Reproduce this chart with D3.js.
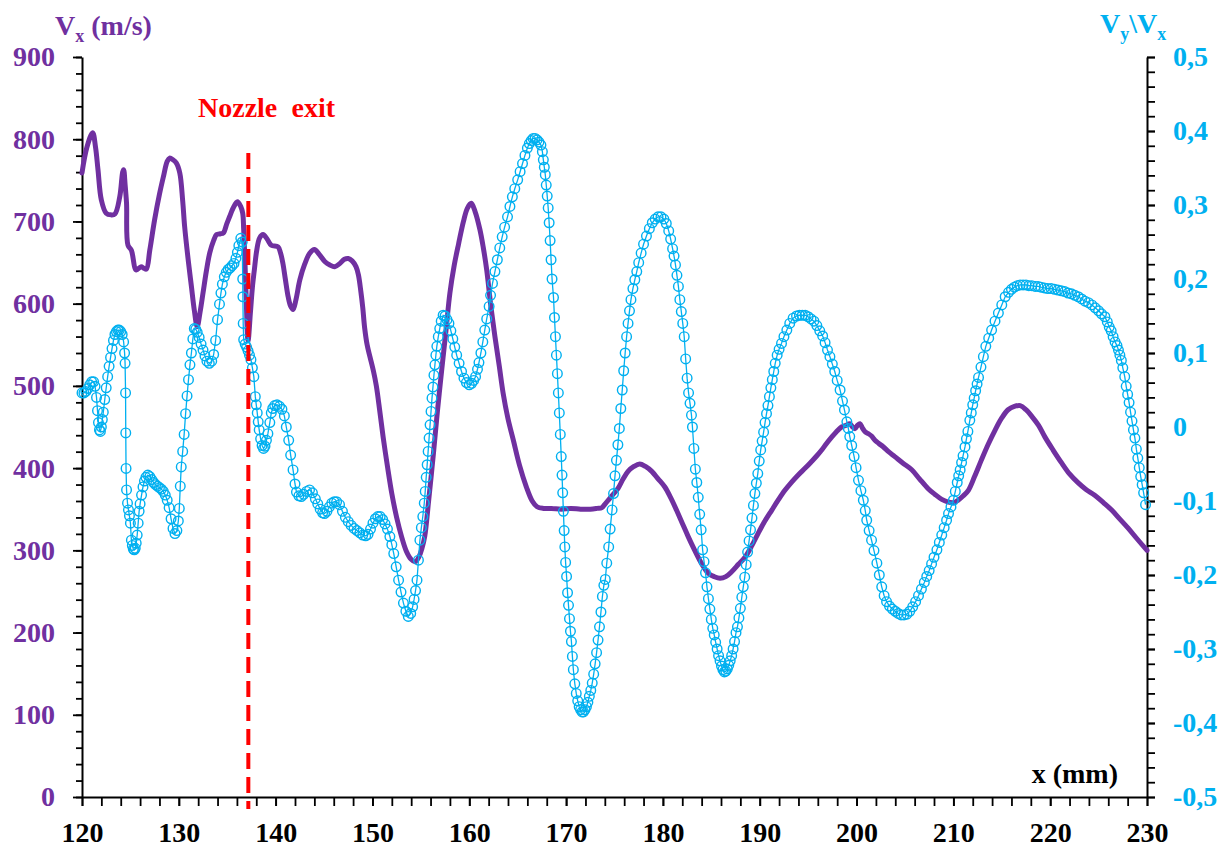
<!DOCTYPE html>
<html><head><meta charset="utf-8">
<script src="https://cdn.jsdelivr.net/npm/d3@7"></script>
<style>
html,body{margin:0;padding:0;background:#fff;}
svg{display:block;font-family:"Liberation Serif","Times New Roman",serif;font-weight:bold;}
</style>
</head><body>
<svg id="c" width="1232" height="856"></svg>
<script>
// ---------- data ----------
const xTicks = [120,130,140,150,160,170,180,190,200,210,220,230];
const vxTicks = [0,100,200,300,400,500,600,700,800,900];
const ratioTicks = [-0.5,-0.4,-0.3,-0.2,-0.1,0,0.1,0.2,0.3,0.4,0.5];
const nozzleExit = 137.18;

// Vx (m/s) along x (mm)
const vxPoints = [
[120.0,759],[120.5,790],[121.1,808],[121.4,790],[121.65,763],[122.0,726],[122.5,710],[123.0,708],[123.4,709],[123.9,730],
[124.2,760],[124.3,763],[124.45,745],[124.6,722],[124.75,671],[125.1,665],[125.6,641],[126.1,645],[126.4,643],[126.65,642],
[127.0,665],[127.5,702],[128.0,733],[128.4,754],[128.8,773],[129.05,777],[129.4,775],[129.75,771],[130.1,759],[130.4,725],
[130.6,694],[131.0,650],[131.3,621],[131.6,592],[131.9,572],[132.2,590],[132.5,613],[132.85,640],[133.2,662],[133.6,677],
[133.9,684],[134.3,685],[134.6,686],[134.95,697],[135.25,706],[135.6,716],[136.05,724],[136.4,718],[136.6,710],[136.7,690],
[136.8,662],[136.95,610],[137.15,555],[137.4,590],[137.6,620],[137.8,641],[138.05,665],[138.35,680],[138.7,684],[139.1,679],
[139.55,671],[140.25,669],[140.5,662],[140.75,649],[141.0,630],[141.3,608],[141.55,597],[141.8,593],[142.1,605],[142.5,629],
[143.0,648],[143.5,661],[144.0,666],[144.5,660],[145.1,651],[145.6,647],[146.1,645],[146.65,649],[147.1,654],[147.5,655],
[147.9,652],[148.3,645],[148.55,635],[148.8,615],[149.0,595],[149.2,570],[149.45,550],[149.75,535],[150.1,518],[150.4,500],
[150.75,470],[151.1,438],[151.55,402],[152.0,369],[152.5,340],[153.0,317],[153.5,299],[154.0,289],[154.4,286],[154.8,292],
[155.1,302],[155.4,317],[155.8,360],[156.3,418],[156.7,468],[157.15,519],[157.6,568],[158.0,613],[158.45,647],[158.9,673],
[159.4,700],[159.8,716],[160.2,722],[160.6,712],[161.1,690],[161.45,668],[161.8,641],[162.2,600],[162.65,560],[163.1,524],
[163.5,491],[164.0,460],[164.55,434],[165.2,403],[165.9,377],[166.5,360],[167.0,353],[167.65,351],[168.5,351],[169.5,350],
[170.5,351],[171.5,350],[172.5,350],[173.2,351],[173.7,352],[174.0,356],[174.5,363],[175.0,370],[175.4,376],[175.9,387],
[176.4,396],[177.0,402],[177.6,405],[178.2,402],[178.85,396],[179.5,387],[180.2,377],[180.8,364],[181.4,349],[182.0,333],
[182.6,317],[183.2,302],[183.8,288],[184.3,278],[184.7,272],[185.3,268],[185.9,266],[186.5,268],[187.1,274],[187.8,283],
[188.5,292],[189.2,306],[189.85,321],[190.5,335],[191.25,349],[191.9,361],[192.6,373],[193.3,383],[194.0,392],[194.7,400],
[195.35,408],[195.9,415],[196.4,422],[196.9,430],[197.45,438],[197.9,444],[198.45,450],[198.9,452],[199.3,454],[199.6,450],
[199.85,448],[200.1,452],[200.35,454],[200.6,449],[200.9,444],[201.2,442],[201.55,439],[201.9,434],[202.3,430],[202.75,426],
[203.3,420],[203.95,414],[204.8,406],[205.7,398],[206.5,387],[207.4,375],[208.1,368],[208.8,362],[209.4,359],[210.0,358],
[210.5,361],[211.0,366],[211.55,373],[212.2,390],[212.9,410],[213.6,429],[214.3,446],[215.0,461],[215.65,471],[216.3,475],
[216.9,476],[217.5,471],[218.1,463],[218.8,452],[219.45,438],[220.3,422],[221.2,406],[222.0,393],[222.9,382],[223.7,374],
[224.6,367],[225.5,358],[226.35,349],[227.2,338],[228.05,327],[228.9,315],[229.85,302],[230.0,300]
];

// Vy\Vx along x (mm)
const ratioPoints = [
[120.0,0.046],[120.2,0.046],[120.4,0.048],[120.6,0.052],[120.8,0.057],[121.0,0.061],[121.2,0.061],[121.35,0.055],[121.5,0.04],[121.6,0.022],
[121.7,0.006],[121.8,-0.004],[121.9,-0.006],[122.0,0.0],[122.1,0.01],[122.2,0.02],[122.35,0.037],[122.5,0.053],[122.65,0.068],[122.8,0.082],
[122.95,0.094],[123.1,0.106],[123.25,0.117],[123.4,0.125],[123.55,0.129],[123.7,0.131],[123.85,0.131],[124.0,0.129],[124.15,0.125],[124.3,0.115],
[124.4,0.1],[124.45,0.086],[124.5,0.046],[124.52,-0.008],[124.55,-0.056],[124.6,-0.085],[124.7,-0.103],[124.8,-0.112],[124.9,-0.12],[125.0,-0.13],
[125.1,-0.153],[125.2,-0.16],[125.3,-0.165],[125.4,-0.166],[125.5,-0.164],[125.6,-0.157],[125.7,-0.146],[125.8,-0.13],[125.9,-0.114],[126.0,-0.104],
[126.15,-0.092],[126.3,-0.081],[126.45,-0.073],[126.6,-0.068],[126.8,-0.065],[127.0,-0.067],[127.2,-0.071],[127.4,-0.075],[127.6,-0.078],[127.8,-0.08],
[128.0,-0.082],[128.2,-0.084],[128.4,-0.087],[128.6,-0.092],[128.8,-0.099],[129.0,-0.109],[129.2,-0.124],[129.4,-0.137],[129.6,-0.144],[129.8,-0.14],
[129.95,-0.127],[130.05,-0.11],[130.15,-0.08],[130.25,-0.054],[130.4,-0.033],[130.55,-0.01],[130.7,0.018],[130.85,0.042],[131.0,0.064],[131.15,0.084],
[131.3,0.1],[131.45,0.119],[131.6,0.133],[131.75,0.132],[131.9,0.128],[132.1,0.121],[132.3,0.112],[132.5,0.104],[132.7,0.096],[132.9,0.089],
[133.15,0.086],[133.4,0.089],[133.6,0.098],[133.8,0.117],[134.0,0.145],[134.2,0.166],[134.35,0.181],[134.5,0.193],[134.7,0.203],[134.9,0.209],
[135.1,0.213],[135.3,0.215],[135.5,0.218],[135.7,0.221],[135.9,0.228],[136.05,0.236],[136.2,0.245],[136.4,0.255],[136.55,0.25],[136.6,0.2],
[136.62,0.176],[136.65,0.14],[136.7,0.118],[136.85,0.112],[137.0,0.108],[137.15,0.103],[137.3,0.097],[137.45,0.091],[137.6,0.08],[137.75,0.068],
[137.9,0.041],[138.0,0.03],[138.1,0.019],[138.2,0.007],[138.3,-0.004],[138.45,-0.016],[138.6,-0.025],[138.75,-0.029],[138.9,-0.026],[139.05,-0.018],
[139.2,-0.009],[139.4,0.006],[139.55,0.019],[139.7,0.025],[139.9,0.029],[140.15,0.03],[140.4,0.028],[140.65,0.024],[140.9,0.015],[141.1,0.0],
[141.35,-0.018],[141.55,-0.038],[141.8,-0.058],[142.0,-0.077],[142.15,-0.088],[142.4,-0.093],[142.65,-0.094],[142.9,-0.091],[143.2,-0.087],[143.5,-0.085],
[143.8,-0.089],[144.1,-0.097],[144.35,-0.104],[144.6,-0.111],[144.85,-0.116],[145.05,-0.117],[145.3,-0.114],[145.55,-0.108],[145.8,-0.103],[146.05,-0.101],
[146.3,-0.101],[146.6,-0.105],[146.9,-0.114],[147.2,-0.122],[147.5,-0.128],[147.8,-0.133],[148.1,-0.137],[148.4,-0.14],[148.7,-0.143],[149.0,-0.146],
[149.3,-0.147],[149.55,-0.145],[149.8,-0.138],[150.05,-0.13],[150.3,-0.124],[150.55,-0.121],[150.8,-0.121],[151.05,-0.125],[151.3,-0.131],[151.55,-0.138],
[151.8,-0.148],[152.0,-0.159],[152.2,-0.171],[152.45,-0.189],[152.7,-0.207],[152.95,-0.223],[153.2,-0.238],[153.45,-0.249],[153.7,-0.256],[153.95,-0.252],
[154.15,-0.243],[154.3,-0.233],[154.45,-0.221],[154.6,-0.207],[154.75,-0.18],[154.9,-0.153],[155.05,-0.136],[155.2,-0.121],[155.35,-0.103],[155.45,-0.087],
[155.55,-0.068],[155.65,-0.051],[155.75,-0.033],[155.85,-0.015],[155.95,0.003],[156.05,0.021],[156.15,0.039],[156.25,0.054],[156.35,0.07],[156.45,0.084],
[156.55,0.097],[156.65,0.109],[156.8,0.122],[156.95,0.133],[157.1,0.143],[157.3,0.151],[157.5,0.15],[157.7,0.145],[157.9,0.14],[158.1,0.13],
[158.3,0.119],[158.5,0.108],[158.7,0.097],[158.95,0.086],[159.2,0.075],[159.45,0.066],[159.7,0.06],[160.0,0.057],[160.25,0.059],[160.45,0.063],
[160.65,0.068],[160.85,0.078],[161.0,0.087],[161.2,0.1],[161.4,0.115],[161.6,0.131],[161.8,0.146],[162.05,0.163],[162.2,0.178],[162.4,0.194],
[162.65,0.21],[162.9,0.226],[163.15,0.242],[163.4,0.257],[163.65,0.27],[163.95,0.284],[164.2,0.298],[164.45,0.311],[164.7,0.322],[165.0,0.334],
[165.25,0.345],[165.5,0.356],[165.75,0.367],[166.0,0.377],[166.2,0.383],[166.4,0.387],[166.6,0.39],[166.8,0.39],[167.0,0.388],[167.2,0.385],
[167.4,0.381],[167.55,0.372],[167.65,0.361],[167.75,0.351],[167.85,0.341],[167.95,0.327],[168.05,0.312],[168.15,0.296],[168.25,0.276],[168.35,0.252],
[168.45,0.226],[168.55,0.2],[168.7,0.175],[168.8,0.148],[168.9,0.122],[169.0,0.097],[169.1,0.072],[169.2,0.046],[169.3,0.019],[169.4,-0.01],
[169.5,-0.04],[169.58,-0.065],[169.65,-0.089],[169.72,-0.114],[169.8,-0.14],[169.87,-0.162],[169.95,-0.183],[170.05,-0.202],[170.15,-0.224],[170.25,-0.241],
[170.35,-0.259],[170.45,-0.276],[170.55,-0.29],[170.65,-0.31],[170.75,-0.328],[170.9,-0.347],[171.05,-0.36],[171.2,-0.37],[171.35,-0.378],[171.5,-0.382],
[171.65,-0.385],[171.8,-0.385],[171.95,-0.382],[172.1,-0.378],[172.25,-0.372],[172.4,-0.364],[172.55,-0.356],[172.7,-0.346],[172.85,-0.334],[173.0,-0.32],
[173.15,-0.305],[173.3,-0.288],[173.45,-0.27],[173.6,-0.25],[173.75,-0.229],[173.9,-0.214],[174.05,-0.206],[174.2,-0.184],[174.4,-0.162],[174.55,-0.138],
[174.75,-0.112],[174.9,-0.09],[175.05,-0.066],[175.2,-0.045],[175.35,-0.024],[175.5,-0.002],[175.65,0.025],[175.8,0.05],[175.95,0.076],[176.1,0.1],
[176.25,0.122],[176.4,0.14],[176.55,0.157],[176.7,0.172],[176.9,0.187],[177.1,0.199],[177.3,0.21],[177.5,0.222],[177.75,0.235],[178.0,0.247],
[178.3,0.258],[178.6,0.268],[178.9,0.276],[179.2,0.281],[179.5,0.284],[179.8,0.284],[180.1,0.281],[180.35,0.275],[180.6,0.265],[180.8,0.254],
[181.0,0.241],[181.15,0.231],[181.3,0.219],[181.45,0.205],[181.6,0.19],[181.75,0.172],[181.9,0.156],[182.05,0.14],[182.2,0.122],[182.35,0.092],
[182.5,0.066],[182.65,0.046],[182.8,0.032],[182.95,0.016],[183.05,0.0],[183.2,-0.029],[183.35,-0.057],[183.5,-0.075],[183.65,-0.095],[183.8,-0.118],
[183.95,-0.139],[184.1,-0.166],[184.25,-0.182],[184.4,-0.197],[184.55,-0.216],[184.7,-0.232],[184.85,-0.246],[185.0,-0.26],[185.15,-0.272],[185.3,-0.281],
[185.45,-0.291],[185.6,-0.3],[185.75,-0.309],[185.9,-0.316],[186.05,-0.323],[186.2,-0.328],[186.35,-0.331],[186.5,-0.33],[186.65,-0.327],[186.8,-0.322],
[186.95,-0.316],[187.1,-0.309],[187.25,-0.3],[187.4,-0.29],[187.55,-0.278],[187.7,-0.27],[187.85,-0.258],[188.0,-0.245],[188.15,-0.23],[188.3,-0.216],
[188.45,-0.203],[188.6,-0.186],[188.75,-0.169],[188.9,-0.154],[189.05,-0.139],[189.2,-0.123],[189.35,-0.106],[189.5,-0.09],[189.65,-0.076],[189.8,-0.063],
[189.95,-0.046],[190.1,-0.031],[190.25,-0.019],[190.4,-0.007],[190.55,0.006],[190.7,0.018],[190.85,0.029],[191.0,0.041],[191.15,0.053],[191.3,0.064],
[191.45,0.075],[191.6,0.086],[191.8,0.097],[192.0,0.105],[192.25,0.113],[192.5,0.122],[192.8,0.131],[193.1,0.14],[193.45,0.147],[193.8,0.15],
[194.1,0.151],[194.4,0.151],[194.7,0.151],[195.0,0.149],[195.3,0.146],[195.6,0.143],[195.9,0.137],[196.2,0.13],[196.5,0.123],[196.75,0.114],
[197.0,0.104],[197.25,0.095],[197.5,0.085],[197.75,0.075],[198.0,0.063],[198.3,0.05],[198.55,0.035],[198.75,0.023],[199.0,0.007],[199.15,-0.002],
[199.3,-0.013],[199.5,-0.025],[199.75,-0.04],[199.95,-0.055],[200.2,-0.072],[200.45,-0.086],[200.7,-0.099],[200.9,-0.113],[201.05,-0.126],[201.3,-0.14],
[201.55,-0.153],[201.8,-0.167],[202.1,-0.184],[202.35,-0.2],[202.6,-0.216],[202.85,-0.228],[203.1,-0.236],[203.4,-0.242],[203.7,-0.246],[204.0,-0.249],
[204.3,-0.252],[204.6,-0.254],[204.9,-0.254],[205.2,-0.253],[205.5,-0.249],[205.8,-0.243],[206.1,-0.236],[206.4,-0.228],[206.7,-0.219],[207.0,-0.21],
[207.25,-0.202],[207.5,-0.194],[207.75,-0.185],[208.0,-0.176],[208.3,-0.166],[208.55,-0.156],[208.8,-0.146],[209.05,-0.136],[209.3,-0.126],[209.5,-0.117],
[209.75,-0.108],[210.0,-0.099],[210.2,-0.087],[210.4,-0.075],[210.55,-0.066],[210.7,-0.058],[210.85,-0.048],[211.0,-0.039],[211.2,-0.027],[211.35,-0.016],
[211.5,-0.006],[211.7,0.009],[211.85,0.019],[212.0,0.03],[212.15,0.039],[212.3,0.049],[212.45,0.058],[212.6,0.067],[212.85,0.081],[213.1,0.095],
[213.35,0.109],[213.65,0.12],[213.95,0.131],[214.3,0.143],[214.65,0.154],[215.0,0.165],[215.35,0.176],[215.7,0.182],[216.0,0.186],[216.3,0.189],
[216.6,0.191],[216.9,0.192],[217.2,0.192],[217.5,0.192],[217.8,0.191],[218.1,0.191],[218.45,0.19],[218.75,0.19],[219.05,0.189],[219.4,0.188],
[219.75,0.187],[220.1,0.187],[220.45,0.186],[220.8,0.185],[221.15,0.184],[221.5,0.183],[221.85,0.181],[222.2,0.18],[222.55,0.178],[222.9,0.176],
[223.25,0.173],[223.6,0.17],[223.95,0.168],[224.3,0.165],[224.65,0.161],[225.0,0.157],[225.3,0.153],[225.65,0.149],[225.9,0.142],[226.1,0.135],
[226.3,0.13],[226.5,0.122],[226.7,0.115],[226.9,0.11],[227.05,0.104],[227.2,0.097],[227.35,0.09],[227.5,0.08],[227.7,0.068],[227.85,0.055],
[228.0,0.044],[228.15,0.033],[228.3,0.02],[228.45,0.008],[228.6,-0.004],[228.75,-0.015],[228.9,-0.03],[229.05,-0.042],[229.2,-0.055],[229.35,-0.067],
[229.5,-0.078],[229.65,-0.089],[229.85,-0.105]
];

// ---------- layout ----------
const PURPLE = "#7030A0", BLUE = "#00B0F0", RED = "#FF0000";
const svg = d3.select("#c");
svg.append("rect").attr("width",1232).attr("height",856).attr("fill","#fff");

const x = d3.scaleLinear().domain([120,230]).range([82,1147]);
const yL = d3.scaleLinear().domain([0,900]).range([797,57]);
const yR = d3.scaleLinear().domain([-0.5,0.5]).range([797,57]);

const fmtR = d => d === 0 ? "0" : (d < 0 ? "-" : "") + Math.abs(d).toFixed(1).replace(".", ",");

function styleAxis(g, color){
  g.selectAll("path.domain").attr("stroke","#000").attr("stroke-width",2);
  g.selectAll(".tick line").attr("stroke","#000").attr("stroke-width",1.8);
  g.selectAll(".tick text").attr("fill",color).attr("font-size",28)
    .attr("font-family",'"Liberation Serif","Times New Roman",serif').attr("font-weight","bold");
}

// minor ticks
const gxm = svg.append("g").attr("transform","translate(0,797)")
  .call(d3.axisBottom(x).tickValues(d3.range(120,231,2)).tickSize(9).tickFormat(""));
gxm.select(".domain").remove(); styleAxis(gxm,"#000");
const gym = svg.append("g").attr("transform","translate(82,0)")
  .call(d3.axisLeft(yL).tickValues(d3.range(0,901,20)).tickSize(6).tickFormat(""));
gym.select(".domain").remove(); styleAxis(gym,"#000");
const grm = svg.append("g").attr("transform","translate(1147,0)")
  .call(d3.axisRight(yR).tickValues(d3.range(-25,26).map(i=>i/50)).tickSize(8).tickFormat(""));
grm.select(".domain").remove(); styleAxis(grm,"#000");

// major axes
const gx = svg.append("g").attr("transform","translate(0,797)")
  .call(d3.axisBottom(x).tickValues(xTicks).tickSize(9).tickSizeOuter(0).tickPadding(16).tickFormat(d3.format("d")));
styleAxis(gx,"#000");
const gy = svg.append("g").attr("transform","translate(82,0)")
  .call(d3.axisLeft(yL).tickValues(vxTicks).tickSize(9).tickSizeOuter(0).tickPadding(18).tickFormat(d3.format("d")));
styleAxis(gy,PURPLE);
const gr = svg.append("g").attr("transform","translate(1147,0)")
  .call(d3.axisRight(yR).tickValues(ratioTicks).tickSize(8).tickSizeOuter(0).tickPadding(18).tickFormat(fmtR));
styleAxis(gr,BLUE);

// ---------- series ----------
const vxLine = d3.line().x(d=>x(d[0])).y(d=>yL(d[1])).curve(d3.curveCatmullRom.alpha(0.5));
svg.append("path").datum(vxPoints).attr("d",vxLine)
  .attr("fill","none").attr("stroke",PURPLE).attr("stroke-width",5)
  .attr("stroke-linejoin","round").attr("stroke-linecap","round");

const rLine = d3.line().x(d=>x(d[0])).y(d=>yR(d[1]));
svg.append("path").datum(ratioPoints).attr("d",rLine)
  .attr("fill","none").attr("stroke",BLUE).attr("stroke-width",1.3);
svg.append("g").selectAll("circle").data(ratioPoints).join("circle")
  .attr("cx",d=>x(d[0])).attr("cy",d=>yR(d[1])).attr("r",4.8)
  .attr("fill","none").attr("stroke",BLUE).attr("stroke-width",1.4);

// nozzle exit line
svg.append("line").attr("x1",x(nozzleExit)).attr("x2",x(nozzleExit))
  .attr("y1",153).attr("y2",809)
  .attr("stroke",RED).attr("stroke-width",4).attr("stroke-dasharray","16,8");

// ---------- texts ----------
const tL = svg.append("text").attr("x",55).attr("y",35).attr("fill",PURPLE).attr("font-size",28);
tL.append("tspan").text("V");
tL.append("tspan").attr("font-size",18).attr("dy",7).text("x");
tL.append("tspan").attr("dy",-7).text(" (m/s)");

const tR = svg.append("text").attr("x",1100).attr("y",33).attr("fill",BLUE).attr("font-size",28);
tR.append("tspan").text("V");
tR.append("tspan").attr("font-size",18).attr("dy",7).text("y");
tR.append("tspan").attr("dy",-7).text("\\V");
tR.append("tspan").attr("font-size",18).attr("dy",7).text("x");

svg.append("text").attr("x",198).attr("y",117).attr("fill",RED).attr("font-size",28).text("Nozzle");
svg.append("text").attr("x",335).attr("y",117).attr("text-anchor","end").attr("fill",RED).attr("font-size",28).text("exit");

svg.append("text").attr("x",1118).attr("y",783).attr("text-anchor","end").attr("fill","#000").attr("font-size",28).text("x (mm)");
</script>
</body></html>
